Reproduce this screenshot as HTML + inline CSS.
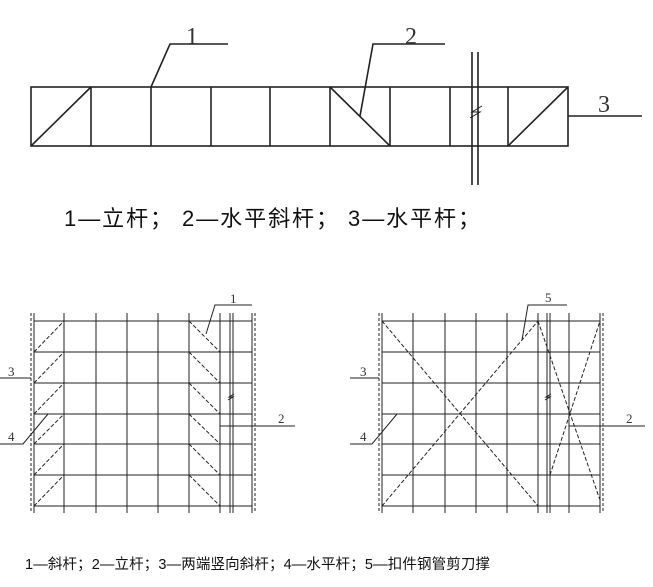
<!DOCTYPE html>
<html><head><meta charset="utf-8"><style>
body{margin:0;background:#fff;width:653px;height:587px;overflow:hidden}
svg{position:absolute;left:0;top:0}
text{font-family:"Liberation Serif","Noto Serif CJK SC",serif;fill:#333}
.cj{font-family:"Liberation Sans","Noto Sans CJK SC",sans-serif;fill:#111}
</style></head><body>
<svg width="653" height="587" viewBox="0 0 653 587" stroke="#222" fill="none" stroke-width="1.6">
<!-- top diagram -->
<rect x="31" y="87" width="537" height="59"/>
<g>
<line x1="91" y1="87" x2="91" y2="146"/><line x1="151" y1="87" x2="151" y2="146"/>
<line x1="211" y1="87" x2="211" y2="146"/><line x1="270" y1="87" x2="270" y2="146"/>
<line x1="330" y1="87" x2="330" y2="146"/><line x1="390" y1="87" x2="390" y2="146"/>
<line x1="450" y1="87" x2="450" y2="146"/><line x1="508" y1="87" x2="508" y2="146"/>
<line x1="31" y1="146" x2="91" y2="87"/><line x1="330" y1="87" x2="390" y2="146"/>
<line x1="508" y1="146" x2="568" y2="87"/>
<line x1="472" y1="52" x2="472" y2="185"/><line x1="478" y1="52" x2="478" y2="185"/>
<path d="M470 118 l10 -6 l-8 0 l10 -6" stroke-width="1"/>
<line x1="568" y1="116" x2="642" y2="116"/>
<polyline points="151,87 170,44 228,44"/>
<polyline points="360,116 373,44 445,44"/>
</g>
<text x="186" y="44" font-size="24" stroke="none">1</text>
<text x="405" y="44" font-size="24" stroke="none">2</text>
<text x="598" y="112" font-size="24" stroke="none" fill="#777">3</text>
<text x="64" y="226" font-size="22" stroke="none" class="cj" textLength="416" lengthAdjust="spacing">1—立杆；  2—水平斜杆；  3—水平杆；</text>

<!-- bottom left -->
<g stroke-width="1">
<line x1="31" y1="313" x2="31" y2="513" stroke-dasharray="3,2"/><line x1="34" y1="313" x2="34" y2="513"/>
<line x1="252" y1="313" x2="252" y2="513"/><line x1="255" y1="313" x2="255" y2="513" stroke-dasharray="3,2"/>
<line x1="64" y1="313" x2="64" y2="513"/><line x1="96" y1="313" x2="96" y2="513"/>
<line x1="127" y1="313" x2="127" y2="513"/><line x1="158" y1="313" x2="158" y2="513"/>
<line x1="189" y1="313" x2="189" y2="513"/><line x1="220" y1="313" x2="220" y2="513"/>
<line x1="230" y1="313" x2="230" y2="513"/><line x1="233" y1="313" x2="233" y2="513"/>
<g id="hl">
<line x1="34" y1="321" x2="252" y2="321"/><line x1="34" y1="352" x2="252" y2="352"/>
<line x1="34" y1="383" x2="252" y2="383"/><line x1="34" y1="414" x2="252" y2="414"/>
<line x1="34" y1="444" x2="252" y2="444"/><line x1="34" y1="475" x2="252" y2="475"/>
<line x1="34" y1="506" x2="252" y2="506"/>
</g>
<g stroke-dasharray="4,2">
<line x1="34" y1="352" x2="64" y2="321"/><line x1="34" y1="383" x2="64" y2="352"/>
<line x1="34" y1="414" x2="64" y2="383"/><line x1="34" y1="444" x2="64" y2="414"/>
<line x1="34" y1="475" x2="64" y2="444"/><line x1="34" y1="506" x2="64" y2="475"/>
<line x1="189" y1="321" x2="220" y2="352"/><line x1="189" y1="352" x2="220" y2="383"/>
<line x1="189" y1="383" x2="220" y2="414"/><line x1="189" y1="414" x2="220" y2="444"/>
<line x1="189" y1="444" x2="220" y2="475"/><line x1="189" y1="475" x2="220" y2="506"/>
</g>
<polyline points="206,334 215,305 252,305"/>
<line x1="0" y1="378" x2="31" y2="378"/>
<polyline points="0,444 23,444 48,414"/>
<line x1="220" y1="426" x2="295" y2="426"/>
<path d="M228 400 l5 -3 l-4 0 l5 -3"/>
</g>
<text x="230" y="303" font-size="13" stroke="none">1</text>
<text x="8" y="376" font-size="13" stroke="none">3</text>
<text x="8" y="441" font-size="13" stroke="none">4</text>
<text x="278" y="423" font-size="13" stroke="none">2</text>

<!-- bottom right -->
<g stroke-width="1">
<line x1="379" y1="313" x2="379" y2="513" stroke-dasharray="3,2"/><line x1="382" y1="313" x2="382" y2="513"/>
<line x1="600" y1="313" x2="600" y2="513"/><line x1="603" y1="313" x2="603" y2="513" stroke-dasharray="3,2"/>
<line x1="413" y1="313" x2="413" y2="513"/><line x1="445" y1="313" x2="445" y2="513"/>
<line x1="476" y1="313" x2="476" y2="513"/><line x1="507" y1="313" x2="507" y2="513"/>
<line x1="538" y1="313" x2="538" y2="513"/><line x1="547" y1="313" x2="547" y2="513"/>
<line x1="550" y1="313" x2="550" y2="513"/><line x1="569" y1="313" x2="569" y2="513"/>
<use href="#hl" transform="translate(348,0)"/>
<g stroke-dasharray="4,2">
<line x1="382" y1="321" x2="538" y2="506"/><line x1="382" y1="506" x2="538" y2="321"/>
<line x1="538" y1="321" x2="600" y2="500"/><line x1="550" y1="475" x2="600" y2="321"/>
</g>
<polyline points="522,340 528,305 567,305"/>
<line x1="350" y1="378" x2="379" y2="378"/>
<polyline points="350,444 372,444 397,414"/>
<line x1="569" y1="426" x2="645" y2="426"/>
<path d="M545 400 l5 -3 l-4 0 l5 -3"/>
</g>
<text x="545" y="302" font-size="13" stroke="none">5</text>
<text x="360" y="376" font-size="13" stroke="none">3</text>
<text x="360" y="441" font-size="13" stroke="none">4</text>
<text x="626" y="423" font-size="13" stroke="none">2</text>

<text x="25" y="569" font-size="14.5" stroke="none" class="cj" textLength="465" lengthAdjust="spacing">1—斜杆；2—立杆；3—两端竖向斜杆；4—水平杆；5—扣件钢管剪刀撑</text>
</svg>
</body></html>
